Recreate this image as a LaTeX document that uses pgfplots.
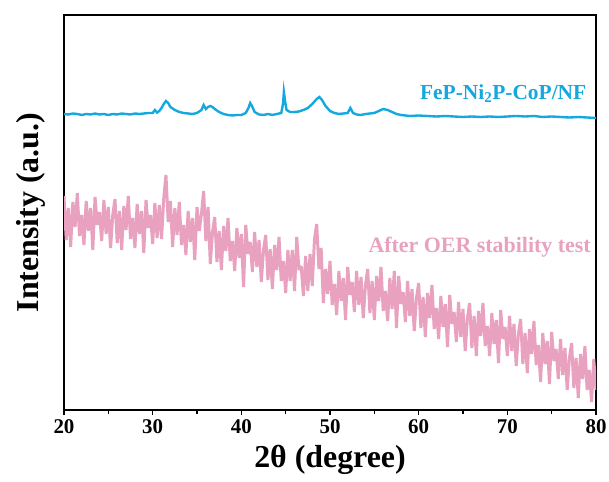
\documentclass[border=0pt]{standalone}
\usepackage{fontspec}
\setmainfont{Liberation Serif}
\usepackage{pgfplots}
\pgfplotsset{compat=1.18}
\definecolor{cblue}{RGB}{20,168,222}
\definecolor{cpink}{RGB}{232,162,192}
\begin{document}
\begin{tikzpicture}
\begin{axis}[name=ax,
  scale only axis, width=532bp, height=395bp,
  xmin=20, xmax=80, ymin=72, ymax=467,
  axis line style={line width=1.3pt},
  xtick={20,30,...,80}, minor x tick num=1,
  xtick pos=bottom, ytick=\empty,
  tick align=outside,
  major tick length=5bp, minor tick length=3.5bp,
  every tick/.style={line width=1.2pt, black},
  /pgf/number format/assume math mode=true,
  xticklabel style={font=\fontsize{21}{21}\selectfont\bfseries, yshift=-1pt},
  xlabel={2θ (degree)},
  ylabel={Intensity (a.u.)},
  xlabel style={font=\fontsize{32}{32}\selectfont\bfseries, yshift=-5pt},
  ylabel style={font=\fontsize{32}{32}\selectfont\bfseries, yshift=10pt},
  clip=true,
]
\addplot[cpink, line width=3pt, line join=bevel] coordinates {
(20.00,286)(20.25,242)(20.50,274)(20.75,235)(21.00,280)(21.25,255)(21.50,289)(21.75,246)(22.00,267)(22.25,237)
(22.50,281)(22.75,251)(23.00,274)(23.25,232)(23.50,285)(23.75,257)(24.00,270)(24.25,241)(24.50,282)(24.75,248)
(25.00,275)(25.25,234)(25.50,267)(25.75,283)(26.00,239)(26.25,271)(26.50,232)(26.75,276)(27.00,252)(27.25,286)
(27.50,243)(27.75,264)(28.00,234)(28.25,278)(28.50,248)(28.75,271)(29.00,229)(29.25,282)(29.50,254)(29.75,267)
(30.00,238)(30.25,279)(30.50,244)(30.75,277)(31.00,243)(31.25,284)(31.50,307)(31.75,260)(32.00,281)(32.25,235)
(32.50,274)(32.75,247)(33.00,280)(33.25,237)(33.50,257)(33.75,227)(34.00,271)(34.25,240)(34.50,264)(34.75,222)
(35.00,275)(35.25,251)(35.50,268)(35.75,291)(36.00,241)(36.25,275)(36.50,218)(36.75,250)(37.00,265)(37.25,220)
(37.50,251)(37.75,212)(38.00,256)(38.25,231)(38.50,264)(38.75,221)(39.00,241)(39.25,211)(39.50,254)(39.75,224)
(40.00,248)(40.25,195)(40.50,257)(40.75,228)(41.00,240)(41.25,210)(41.50,250)(41.75,215)(42.00,242)(42.25,200)
(42.50,232)(42.75,247)(43.00,202)(43.25,233)(43.50,193)(43.75,237)(44.00,212)(44.25,245)(44.50,201)(44.75,221)
(45.00,189)(45.25,232)(45.50,201)(45.75,232)(46.00,191)(46.25,245)(46.50,212)(46.75,216)(47.00,186)(47.25,226)
(47.50,191)(47.75,228)(48.00,196)(48.25,243)(48.50,258)(48.75,213)(49.00,234)(49.25,179)(49.50,213)(49.75,188)
(50.00,221)(50.25,177)(50.50,198)(50.75,167)(51.00,211)(51.25,181)(51.50,204)(51.75,162)(52.00,215)(52.25,187)
(52.50,200)(52.75,170)(53.00,211)(53.25,177)(53.50,205)(53.75,164)(54.00,197)(54.25,213)(54.50,169)(54.75,201)
(55.00,162)(55.25,206)(55.50,181)(55.75,215)(56.00,171)(56.25,191)(56.50,161)(56.75,204)(57.00,173)(57.25,211)
(57.50,154)(57.75,206)(58.00,178)(58.25,190)(58.50,160)(58.75,201)(59.00,166)(59.25,193)(59.50,151)(59.75,184)
(60.00,199)(60.25,154)(60.50,185)(60.75,145)(61.00,189)(61.25,164)(61.50,197)(61.75,153)(62.00,174)(62.25,143)
(62.50,186)(62.75,155)(63.00,178)(63.25,135)(63.50,187)(63.75,158)(64.00,170)(64.25,140)(64.50,180)(64.75,145)
(65.00,173)(65.25,131)(65.50,164)(65.75,179)(66.00,134)(66.25,166)(66.50,126)(66.75,171)(67.00,146)(67.25,179)
(67.50,136)(67.75,156)(68.00,126)(68.25,169)(68.50,138)(68.75,162)(69.00,119)(69.25,172)(69.50,143)(69.75,155)
(70.00,126)(70.25,166)(70.50,131)(70.75,158)(71.00,116)(71.25,148)(71.50,163)(71.75,118)(72.00,149)(72.25,109)
(72.50,153)(72.75,128)(73.00,161)(73.25,117)(73.50,137)(73.75,100)(74.00,149)(74.25,118)(74.50,141)(74.75,98)
(75.00,150)(75.25,121)(75.50,133)(75.75,103)(76.00,143)(76.25,107)(76.50,134)(76.75,92)(77.00,124)(77.25,139)
(77.50,94)(77.75,124)(78.00,84)(78.25,128)(78.50,103)(78.75,136)(79.00,92)(79.25,112)(79.50,80)(79.75,123)
(80.00,92)
};
\addplot[cblue, line width=2.4pt] coordinates {
(20,368)(20.5,367.5)(21,368.5)(21.5,368)(22,367)(22.5,368)(23,367.5)(23.5,368.5)(24,367.5)(24.5,368)
(25,367)(25.5,368)(26,367.5)(26.5,368.5)(27,368)(27.5,367.5)(28,368.5)(28.5,368)(29,368.5)(29.5,369)
(30,369)(30.25,372)(30.5,369.5)(30.75,371)(31,374)(31.25,378)(31.5,381)(31.75,379)(32,375)(32.5,372)
(33,370)(33.5,369)(34,368.5)(34.5,368)(35,369)(35.5,372)(35.75,377)(36,373)(36.25,375)(36.5,376)
(36.75,375)(37,373)(37.5,370)(38,368)(38.5,367)(39,366.5)(39.5,367)(40,367)(40.5,369)(40.8,374)
(41,379)(41.2,376)(41.5,370)(42,367.5)(42.5,367)(43,368)(43.5,367)(44,368)(44.5,369)(44.7,378)
(44.8,390)(44.95,380)(45.1,372)(45.5,370)(46,370)(46.5,370.5)(47,372)(47.5,374)(48,378)(48.5,383)
(48.8,385)(49.1,382)(49.5,376)(50,371)(50.5,369)(51,368)(51.5,368.5)(52,369)(52.3,374)(52.6,369)
(53,367.5)(53.5,367)(54,368)(54.5,368.5)(55,369)(55.5,371)(56,373)(56.5,372)(57,370)(57.5,368)
(58,367)(58.5,366.5)(59,366)(60,366.5)(61,366)(62,365.5)(63,366)(64,365.5)(65,365)(66,365.5)
(67,365)(68,365.5)(69,365)(70,365.5)(71,366)(72,365.5)(73,366)(74,365)(75,365.5)(76,365)
(77,364.5)(78,365)(79,364.5)(80,364)
};
\node[anchor=east, text=cblue, font=\fontsize{21.5}{21.5}\selectfont\bfseries] at (axis cs:79.3,388) {FeP-Ni\textsubscript{2}P-CoP/NF};
\node[anchor=east, text=cpink, font=\fontsize{22}{22}\selectfont\bfseries] at (axis cs:79.8,235) {After OER stability test};
\end{axis}
\pgfresetboundingbox
\path ([shift={(-64bp,-72bp)}]ax.south west) rectangle ([shift={(13bp,15bp)}]ax.north east);
\end{tikzpicture}
\end{document}
